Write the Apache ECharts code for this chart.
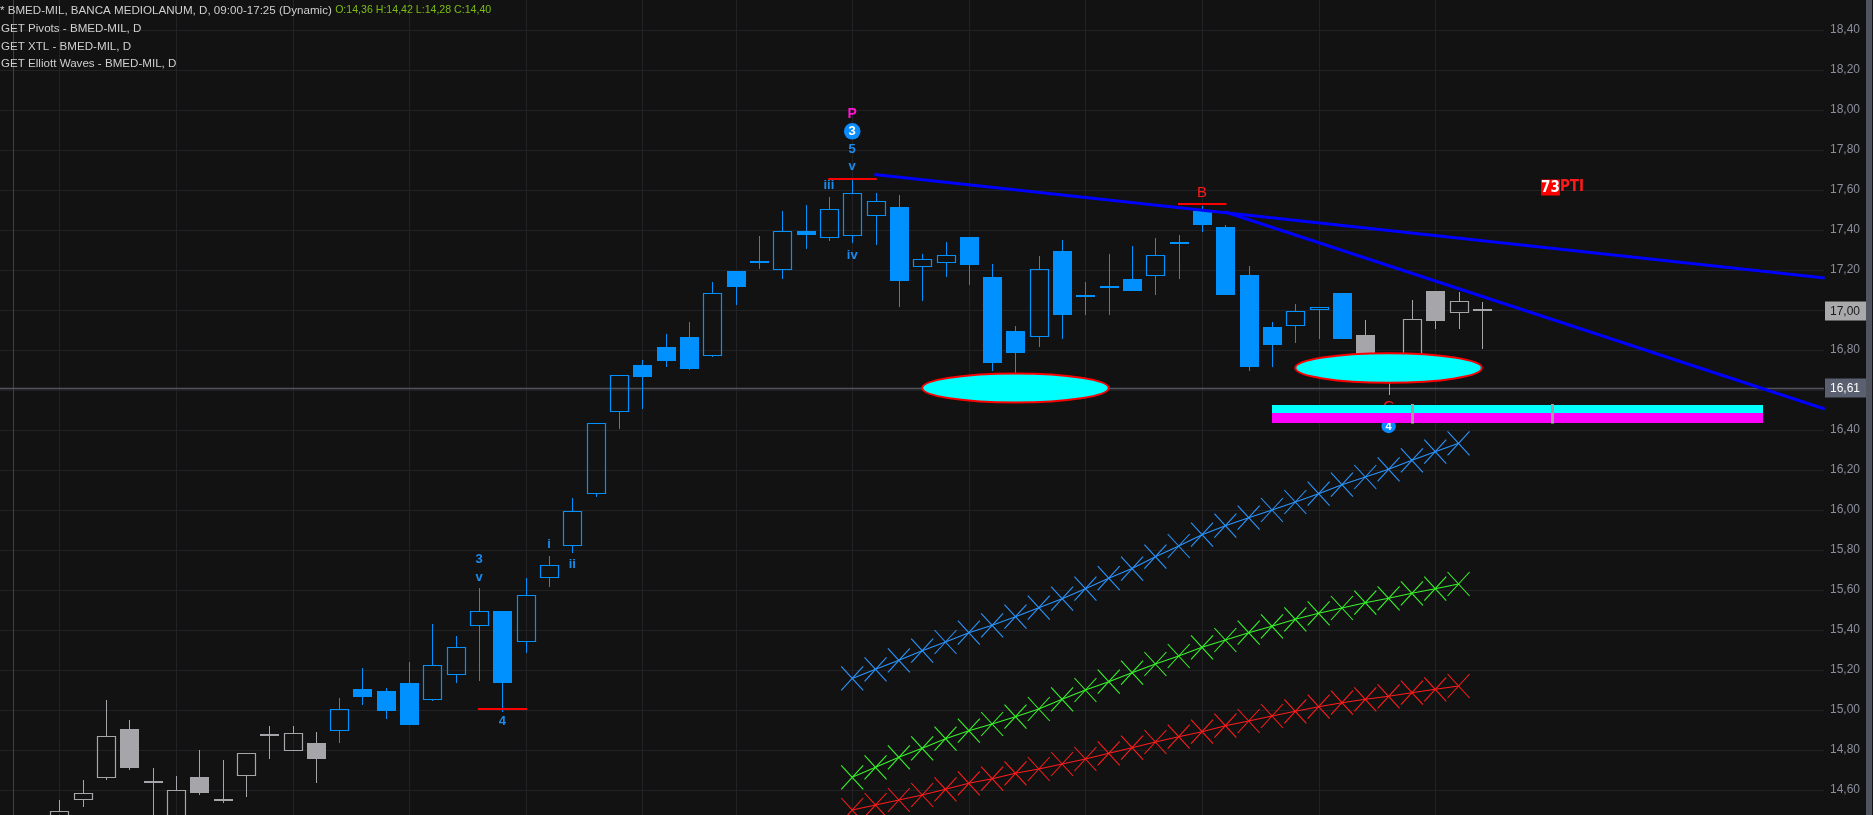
<!DOCTYPE html>
<html><head><meta charset="utf-8">
<script src="https://cdn.jsdelivr.net/npm/echarts@6/dist/echarts.min.js"></script>
<style>html,body{margin:0;padding:0;background:#121212;overflow:hidden}#c{width:1873px;height:815px}</style>
</head><body><div id="c"></div>
<script>
// ---------- DATA ----------
// candle k = trading day k (0..61)
const opens  = [14.44,14.548,14.66,14.905,14.64,14.45,14.665,14.55,14.668,14.873,14.797,14.835,14.897,15.105,15.095,15.135,15.048,15.177,15.418,15.495,15.338,15.658,15.818,16.078,16.488,16.725,16.815,16.865,16.768,17.195,17.242,17.198,17.395,17.358,17.368,17.468,17.515,17.217,17.237,17.365,17.165,16.895,16.867,17.295,17.072,17.117,17.155,17.168,17.337,17.495,17.413,17.173,16.913,16.918,16.998,17.083,16.873,16.70,16.74,17.095,16.987,17.00];
const highs  = [14.55,14.65,15.05,14.95,14.71,14.67,14.80,14.75,14.785,14.92,14.92,14.888,15.06,15.21,15.11,15.24,15.43,15.37,15.61,15.495,15.66,15.77,16.06,16.435,16.675,16.75,16.88,16.94,17.14,17.195,17.37,17.495,17.525,17.565,17.655,17.585,17.575,17.28,17.34,17.365,17.23,16.92,17.27,17.35,17.14,17.28,17.32,17.36,17.375,17.52,17.423,17.22,16.938,17.028,17.015,17.085,16.948,16.78,17.05,17.095,17.09,17.04];
const lows   = [14.40,14.517,14.65,14.70,14.45,14.44,14.575,14.535,14.567,14.755,14.795,14.637,14.837,15.025,14.955,14.925,15.045,15.137,15.147,14.99,15.287,15.617,15.787,16.067,16.405,16.507,16.717,16.70,16.765,17.027,17.207,17.157,17.307,17.347,17.335,17.327,17.017,17.047,17.167,17.127,16.697,16.687,16.817,16.857,16.977,16.977,17.095,17.077,17.157,17.392,17.075,16.697,16.717,16.837,16.857,16.855,16.72,16.577,16.72,16.907,16.907,16.807];
const closes = [14.494,14.583,14.87,14.71,14.64,14.60,14.587,14.55,14.783,14.873,14.883,14.755,15.003,15.067,14.997,14.927,15.223,15.313,15.493,15.137,15.575,15.723,15.993,16.433,16.673,16.667,16.747,16.707,17.083,17.117,17.242,17.393,17.377,17.503,17.583,17.543,17.147,17.255,17.273,17.227,16.737,16.787,17.205,16.977,17.072,17.117,17.097,17.273,17.337,17.427,17.077,16.717,16.827,16.993,17.013,16.857,16.75,16.74,16.953,16.947,17.043,17.00];
const candleTone = 'gggggggggggg' + 'b'.repeat(44) + 'gggggg';

// XTL channels, one point per day starting at day 34
const xtlStart = 34;
const xtlBlue  = [15.158,15.2035,15.2485,15.2965,15.34,15.3865,15.4235,15.4665,15.5115,15.5565,15.6065,15.659,15.707,15.7665,15.82,15.8765,15.9215,15.9615,16.0,16.04,16.0815,16.1265,16.165,16.2035,16.2485,16.2915,16.3335];
const xtlGreen = [14.6635,14.7135,14.7635,14.8085,14.8565,14.8965,14.93,14.9665,15.005,15.0535,15.1,15.1415,15.1865,15.23,15.27,15.3135,15.35,15.3865,15.4185,15.4535,15.4835,15.51,15.5365,15.5585,15.5835,15.6065,15.63];
const xtlRed   = [14.50,14.525,14.55,14.575,14.6035,14.6335,14.6565,14.6835,14.705,14.73,14.755,14.7835,14.8115,14.84,14.8665,14.8915,14.9215,14.945,14.97,14.9935,15.0165,15.0365,15.0535,15.0685,15.0865,15.1035,15.12];

// trend lines [day, price]
const trendUpper = [[34.95,17.678],[75.7,17.1605]];
const trendLower = [[50,17.49],[75.7,16.505]];

// pivot marks [fromDay, toDay, price]
const pivotMarks = [[32.97,35.05,17.6565],[47.97,50.05,17.5285],[17.95,20.05,15.0065]];

// target ellipses [centerDay, halfDays, centerPrice, halfPrice]
const ellipses = [[41,4,16.61,0.0725],[57,4,16.71,0.0735]];

// target band [fromDay, toDay, cyanTop, split, magentaBottom]
const band = [52,73.05,16.525,16.485,16.437];
const bandTicks = [58,64];

// wave labels: text, day, price
const waveTexts  = ['P','3','5','v','iii','iv','3','v','4','i','ii','B'];
const waveDays   = [34,34,34,34,33,34,18,18,19,21,22,49];
const wavePrices = [17.98,17.8935,17.8035,17.716,17.622,17.274,15.754,15.664,14.945,15.826,15.727,17.5865];
const waveKinds  = ['pink','circle','blue','blue','blue','blue','blue','blue','blue','blue','blue','red'];
const hiddenTexts = ['C','4'];
const hiddenDays = [57,57];
const hiddenPrices = [16.5175,16.42];
const hiddenKinds = ['red','circleSmall'];

const ptiLabel = {day:63.54, price:17.6125, num:'73', txt:'PTI'};

const lastPrice = 17.00;
const refPrice = 16.61;
const weekLines = [0,5,10,15,20,25,29,34,39,44,49,54,59];
const sessionLine = -2;

const X_MIN = -2.543, X_MAX = 75.67, Y_MIN = 14.4, Y_MAX = 18.6, Y_STEP = 0.2;

// ---------- STYLE ----------
const BLUE = '#0091ff', GRAY = '#a5a5aa', GRID = '#222226';
const XB = '#2a95ff', XG = '#38f52a', XR = '#ff1c1c';
const fmt = v => v.toFixed(2).replace('.', ',');

function ln(x1,y1,x2,y2,c,w){return {type:'line',shape:{x1,y1,x2,y2},style:{stroke:c,lineWidth:w||1}};}

function candleItem(params, api){
  const k = params.dataIndex;
  const i = api.value(0), o = api.value(1), h = api.value(2), l = api.value(3), c = api.value(4);
  const col = candleTone[k] === 'g' ? GRAY : BLUE;
  const pO = api.coord([i,o]);
  const cx = Math.round(pO[0]);
  const yO = pO[1], yC = api.coord([i,c])[1], yH = Math.round(api.coord([i,h])[1]), yL = Math.round(api.coord([i,l])[1]);
  const top = Math.round(Math.min(yO,yC)), bot = Math.round(Math.max(yO,yC));
  const wx = cx + 0.5, kids = [];
  if (o === c){
    kids.push(ln(wx,yH,wx,yL,col));
    kids.push({type:'rect',shape:{x:cx-9,y:Math.round(yO)-1,width:19,height:2},style:{fill:col}});
  } else if (c > o){
    if (yH < top) kids.push(ln(wx,yH,wx,top,col));
    if (yL > bot) kids.push(ln(wx,bot,wx,yL,col));
    kids.push({type:'rect',shape:{x:cx-9+0.5,y:top+0.5,width:18,height:Math.max(1,bot-top-1)},style:{fill:'none',stroke:col,lineWidth:1.2}});
  } else {
    kids.push(ln(wx,yH,wx,yL,col));
    kids.push({type:'rect',shape:{x:cx-9,y:top,width:19,height:Math.max(2,bot-top)},style:{fill:col}});
  }
  return {type:'group',children:kids};
}

function xMarks(color){
  return function(params, api){
    const p = api.coord([api.value(0), api.value(1)]);
    return {type:'group',children:[
      ln(p[0]-11,p[1]-12,p[0]+11,p[1]+12,color,1.1),
      ln(p[0]+11,p[1]-12,p[0]-11,p[1]+12,color,1.1)
    ]};
  };
}

function labelItem(texts, kinds){
  return function(params, api){
    const k = params.dataIndex;
    const p = api.coord([api.value(0), api.value(1)]);
    const kind = kinds[k], t = texts[k];
    if (kind === 'circle' || kind === 'circleSmall'){
      const r = kind === 'circle' ? 8.3 : 7.2;
      return {type:'group',children:[
        {type:'circle',shape:{cx:p[0],cy:p[1],r:r},style:{fill:'#0a8cff'}},
        {type:'text',style:{text:t,x:p[0],y:p[1]+0.5,align:'center',verticalAlign:'middle',fill:'#ffffff',font:'bold '+(kind==='circle'?13:11)+'px "Liberation Sans"'}}
      ]};
    }
    const color = kind==='pink' ? '#ff14d2' : kind==='red' ? '#ff1a1a' : '#1a8cf0';
    const font = kind==='pink' ? 'bold 14px "Liberation Sans"' : kind==='red' ? '15px "Liberation Sans"' : 'bold 13px "Liberation Sans"';
    return {type:'text',style:{text:t,x:p[0],y:p[1],align:'center',verticalAlign:'middle',fill:color,font:font}};
  };
}

const chart = echarts.init(document.getElementById('c'));
const candleData = opens.map((o,k)=>[k,o,highs[k],lows[k],closes[k]]);
const xtl = arr => arr.map((v,k)=>[xtlStart+k, v]);

const option = {
  backgroundColor:'#121212',
  animation:false,
  grid:{left:0,right:49,top:-10,bottom:-15,containLabel:false,outerBoundsMode:'none'},
  xAxis:{type:'value',min:X_MIN,max:X_MAX,show:true,axisLine:{show:false},axisTick:{show:false},axisLabel:{show:false},splitLine:{show:false}},
  yAxis:{type:'value',position:'right',min:Y_MIN,max:Y_MAX,interval:Y_STEP,
    axisLine:{show:false},axisTick:{show:false},
    splitLine:{show:true,lineStyle:{color:GRID,width:1}},
    axisLabel:{show:true,color:'#8a8e9c',fontSize:12,fontFamily:'Liberation Sans',align:'left',margin:6,padding:[5,0,0,0],formatter:fmt}},
  graphic:[
    {type:'text',x:0,y:10.5,z:100,style:{text:'{a|* BMED-MIL, BANCA MEDIOLANUM, D, 09:00-17:25 (Dynamic)} {b|O:14,36 H:14,42 L:14,28 C:14,40}',verticalAlign:'middle',
      rich:{a:{fill:'#cfcfcf',font:'11.6px "Liberation Sans"'},b:{fill:'#7cbc10',font:'10.6px "Liberation Sans"'}}}},
    {type:'text',x:1,y:28.8,z:100,style:{text:'GET Pivots - BMED-MIL, D',verticalAlign:'middle',fill:'#cfcfcf',font:'11.6px "Liberation Sans"'}},
    {type:'text',x:1,y:46.6,z:100,style:{text:'GET XTL - BMED-MIL, D',verticalAlign:'middle',fill:'#cfcfcf',font:'11.6px "Liberation Sans"'}},
    {type:'text',x:1,y:64.2,z:100,style:{text:'GET Elliott Waves - BMED-MIL, D',verticalAlign:'middle',fill:'#cfcfcf',font:'11.6px "Liberation Sans"'}},
    {type:'rect',shape:{x:1866,y:0,width:6,height:815},style:{fill:'#50545f'}}
  ],
  series:[
    {type:'custom',name:'weeks',z:0,silent:true,data:weekLines.map(d=>[d]),
      renderItem:(p,api)=>{const a=api.coord([api.value(0),Y_MAX]),b=api.coord([api.value(0),Y_MIN]);const x=Math.round(a[0])+0.5;return ln(x,a[1],x,b[1],GRID,1);}},
    {type:'custom',name:'session',z:0,silent:true,data:[[sessionLine]],
      renderItem:(p,api)=>{const a=api.coord([api.value(0),Y_MAX]),b=api.coord([api.value(0),Y_MIN]);const x=Math.round(a[0])+0.5;return ln(x,a[1],x,b[1],'#3e3e4c',1);}},
    {type:'custom',name:'ref',z:1,silent:true,data:[[refPrice]],
      renderItem:(p,api)=>{const a=api.coord([X_MIN,api.value(0)]),b=api.coord([X_MAX,api.value(0)]);const y=Math.round(a[1])+0.5;return ln(a[0],y,b[0],y,'#55555f',1.5);}},
    {type:'line',name:'xtlB',z:1,data:xtl(xtlBlue),symbol:'none',lineStyle:{color:XB,width:1.1}},
    {type:'line',name:'xtlG',z:1,data:xtl(xtlGreen),symbol:'none',lineStyle:{color:XG,width:1.1}},
    {type:'line',name:'xtlR',z:1,data:xtl(xtlRed),symbol:'none',lineStyle:{color:XR,width:1.1}},
    {type:'custom',z:1,data:xtl(xtlBlue),renderItem:xMarks(XB)},
    {type:'custom',z:1,data:xtl(xtlGreen),renderItem:xMarks(XG)},
    {type:'custom',z:1,data:xtl(xtlRed),renderItem:xMarks(XR)},
    {type:'custom',name:'candles',z:2,data:candleData,renderItem:candleItem},
    {type:'line',z:3,data:trendUpper,symbol:'none',lineStyle:{color:'#0000ff',width:3}},
    {type:'line',z:3,data:trendLower,symbol:'none',lineStyle:{color:'#0000ff',width:3}},
    {type:'custom',z:3,data:pivotMarks,
      renderItem:(p,api)=>{const a=api.coord([api.value(0),api.value(2)]),b=api.coord([api.value(1),api.value(2)]);const y=Math.round(a[1]);return {type:'rect',shape:{x:a[0],y:y-1,width:b[0]-a[0],height:2},style:{fill:'#ff0000'}};}},
    {type:'custom',z:4,data:ellipses,
      renderItem:(p,api)=>{const c=api.coord([api.value(0),api.value(2)]);const rx=api.coord([api.value(0)+api.value(1),api.value(2)])[0]-c[0];const ry=c[1]-api.coord([api.value(0),api.value(2)+api.value(3)])[1];
        return {type:'ellipse',shape:{cx:c[0],cy:c[1],rx:rx,ry:ry},style:{fill:'#00ffff',stroke:'#ff0000',lineWidth:2}};}},
    {type:'custom',z:4,data:hiddenDays.map((d,k)=>[d,hiddenPrices[k]]),renderItem:labelItem(hiddenTexts,hiddenKinds)},
    {type:'custom',z:5,data:[band],
      renderItem:(p,api)=>{const a=api.coord([api.value(0),api.value(2)]),m=api.coord([api.value(1),api.value(3)]),b=api.coord([api.value(1),api.value(4)]);
        const x0=Math.round(a[0]),x1=Math.round(b[0]),y0=Math.round(a[1]),y1=Math.round(m[1]),y2=Math.round(b[1]);
        return {type:'group',children:[
          {type:'rect',shape:{x:x0,y:y0,width:x1-x0,height:y1-y0},style:{fill:'#00ffff'}},
          {type:'rect',shape:{x:x0,y:y1,width:x1-x0,height:y2-y1},style:{fill:'#ff00ff'}}]};}},
    {type:'custom',z:5,data:bandTicks.map(d=>[d]),
      renderItem:(p,api)=>{const a=api.coord([api.value(0),band[2]]),b=api.coord([api.value(0),band[4]]);return {type:'rect',shape:{x:Math.round(a[0])-1,y:a[1]-1,width:3,height:b[1]-a[1]+2},style:{fill:'#a0a0a0'}};}},
    {type:'custom',z:6,data:waveDays.map((d,k)=>[d,wavePrices[k]]),renderItem:labelItem(waveTexts,waveKinds)},
    {type:'custom',z:6,data:[[ptiLabel.day,ptiLabel.price]],
      renderItem:(p,api)=>{const c=api.coord([api.value(0),api.value(1)]);
        return {type:'text',style:{text:'{a|'+ptiLabel.num+'}{b|'+ptiLabel.txt+'}',x:c[0],y:c[1],verticalAlign:'middle',align:'left',
          rich:{a:{fill:'#ffffff',backgroundColor:'#ff0000',font:'bold 15px "Liberation Sans Narrow","DejaVu Sans Condensed"',lineHeight:15,padding:[1,0,0,0]},
                b:{fill:'#ff1a1a',font:'bold 15px "Liberation Sans Narrow","DejaVu Sans Condensed"',lineHeight:15}}}};}},
    {type:'custom',z:7,data:[[lastPrice,0],[refPrice,1]],
      renderItem:(p,api)=>{const v=api.value(0),k=api.value(1);const c=api.coord([X_MAX,v]);const y=Math.round(c[1])+(k?0:1);
        return {type:'group',children:[
          {type:'rect',shape:{x:c[0]+1,y:y-9.5,width:41,height:19},style:{fill:k?'#5b6070':'#a9a9ab'}},
          {type:'text',style:{text:fmt(v),x:c[0]+6,y:y+0.5,align:'left',verticalAlign:'middle',fill:k?'#ffffff':'#1a1a1a',font:'12px "Liberation Sans"'}}]};}}
  ]
};
chart.setOption(option);
</script></body></html>
